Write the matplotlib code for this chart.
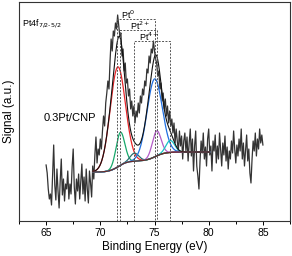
import numpy as np
import matplotlib
matplotlib.use("Agg")
import matplotlib.pyplot as plt
from matplotlib.ticker import MultipleLocator

plt.rcParams['font.family'] = ['Liberation Sans', 'DejaVu Sans']

# measured spectrum, 65.0 -> 85.0 eV in 0.1 eV steps
be_start, be_step = 65.0, 0.1
signal = [
    56, 48, 32, 22, 27, 16, 46, 76, 36, 21,
    52, 30, 13, 40, 62, 26, 42, 20, 37, 32,
    50, 22, 37, 27, 54, 72, 34, 17, 42, 30,
    47, 22, 40, 57, 27, 44, 20, 52, 32, 18,
    50, 38, 24, 55, 42, 66, 84, 58, 72, 66,
    82, 72, 90, 105, 95, 118, 128, 140, 132, 160,
    182, 170, 190, 185, 198, 192, 206, 195, 185, 188,
    165, 172, 150, 158, 138, 142, 125, 132, 112, 120,
    105, 115, 98, 110, 104, 118, 108, 125, 118, 132,
    126, 140, 135, 152, 148, 165, 158, 172, 168, 180,
    170, 162, 158, 145, 150, 132, 138, 120, 128, 112,
    122, 105, 115, 98, 110, 95, 102, 88, 98, 78,
    92, 80, 70, 90, 75, 85, 62, 80, 88, 70,
    84, 60, 78, 92, 65, 82, 50, 75, 90, 55,
    45, 32, 60, 80, 68, 88, 62, 74, 55, 82,
    92, 66, 75, 50, 80, 70, 86, 58, 75, 62,
    88, 72, 55, 78, 66, 85, 60, 74, 52, 70,
    62, 80, 68, 90, 72, 58, 76, 65, 82, 70,
    92, 62, 78, 55, 70, 86, 60, 72, 48, 38,
    62, 80, 70, 88, 65, 82, 72, 92, 78, 86,
    76,
]

# fitted components: centre (eV), height, sigma, colour
peak_centres = [71.6, 71.85, 73.15, 75.0, 75.2, 76.45]
peak_heights = [100, 33, 8, 78, 25, 12]
peak_sigmas = [0.7, 0.4, 0.4, 0.7, 0.4, 0.4]
peak_colors = ['#e8262a', '#17a86b', '#2a6f6f', '#1f6fe0', '#b45cc8', '#19c4c4']

# Shirley background end levels
bg_range = (69.3, 80.1)
bg_levels = (49, 69)

# Pt0, Pt2+, Pt4+ doublet positions (eV) and bracket heights
states = ['Pt$^0$', 'Pt$^{2+}$', 'Pt$^{4+}$']
state_pos = [(71.52, 75.0), (71.83, 75.2), (73.15, 76.45)]
state_top = [202, 191, 180]
label_shift = [0.4, 0.9, 0.4]

be = be_start + be_step * np.arange(len(signal))

fig = plt.figure(figsize=(2.92, 2.56), dpi=100)
ax = fig.add_axes([19 / 292, 35 / 256, 271 / 292, 219 / 256])

ax.plot(be, signal, color='#333333', lw=0.9)

xf = np.linspace(bg_range[0], bg_range[1], 400)
peaks = [h * np.exp(-(xf - c) ** 2 / (2 * s ** 2))
         for c, h, s in zip(peak_centres, peak_heights, peak_sigmas)]
total = np.sum(peaks, axis=0)
cum = np.cumsum(total)
bg = bg_levels[0] + (bg_levels[1] - bg_levels[0]) * cum / cum[-1]

for p, col in zip(peaks, peak_colors):
    ax.plot(xf, bg + p, color=col, lw=0.9)
ax.plot(xf, bg + total, color='#111111', lw=0.8)
ax.plot(xf, bg, color='#6b2b2b', lw=0.9)

dash = dict(color='#555555', lw=0.7, ls=(0, (2, 1.5)))
for name, (a, b), top, dx in zip(states, state_pos, state_top, label_shift):
    ax.plot([a, a, b, b], [0, top, top, 0], **dash)
    ax.text(a + dx, top - 2, name, fontsize=6.5, ha='left', va='bottom')

ax.text(62.8, 197, 'Pt4f$_{7/2\u20105/2}$', fontsize=6.5, va='center')
ax.text(64.8, 103, '0.3Pt/CNP', fontsize=8, va='center')

ax.set_xlim(62.5, 87.5)
ax.set_ylim(0, 219)
ax.set_yticks([])
ax.xaxis.set_major_locator(MultipleLocator(5))
ax.xaxis.set_minor_locator(MultipleLocator(2.5))
ax.tick_params(axis='x', which='both', direction='out', labelsize=7.5, length=3, width=0.7, pad=2)
ax.tick_params(axis='x', which='minor', length=2)
for sp in ax.spines.values():
    sp.set_linewidth(0.8)
    sp.set_color('#333333')

ax.set_xlabel('Binding Energy (eV)', fontsize=8.5, labelpad=2)
ax.set_ylabel('Signal (a.u.)', fontsize=8.5, labelpad=3)

fig.savefig('out.png', dpi=100)
